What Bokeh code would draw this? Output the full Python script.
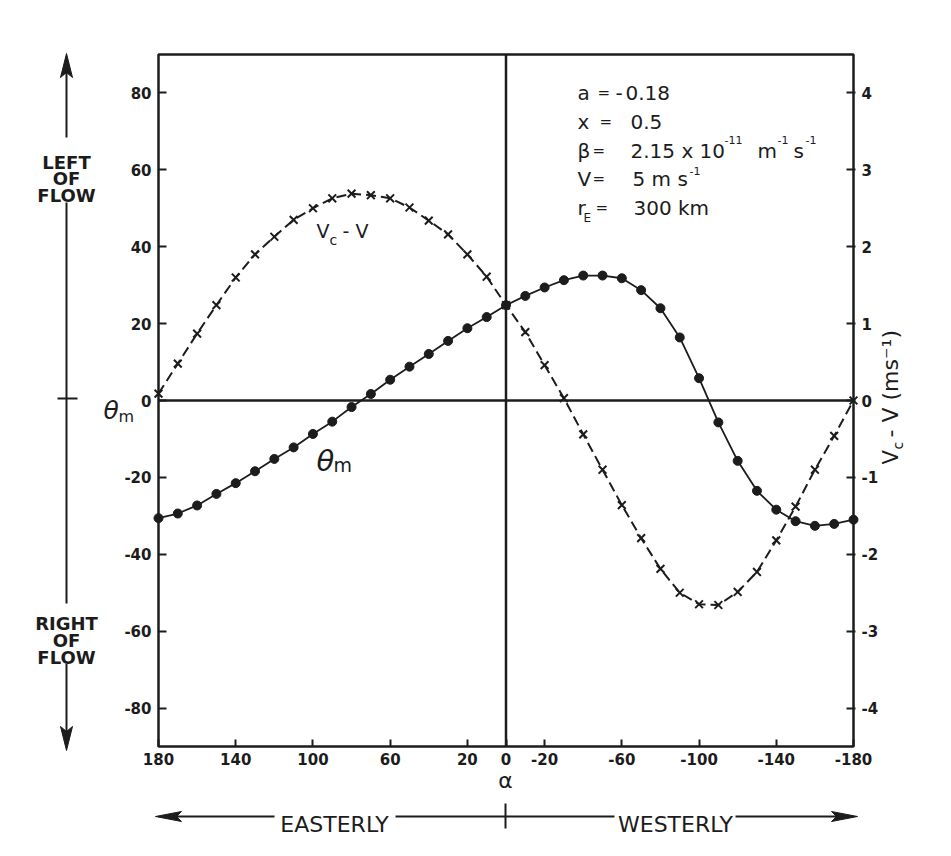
from math import pi

from bokeh.embed import file_html
from bokeh.models import FixedTicker, Label, LinearAxis, Range1d
from bokeh.plotting import figure
from bokeh.resources import INLINE

# ---- data -----------------------------------------------------------------
alpha = [180, 170, 160, 150, 140, 130, 120, 110, 100, 90, 80, 70, 60, 50, 40,
         30, 20, 10, 0, -10, -20, -30, -40, -50, -60, -70, -80, -90, -100,
         -110, -120, -130, -140, -150, -160, -170, -180]

# theta_m (deg), left axis
theta_m = [-30.6, -29.4, -27.3, -24.3, -21.5, -18.4, -15.2, -12.2, -8.7, -5.5,
           -1.7, 1.7, 5.4, 8.8, 12.1, 15.5, 18.8, 21.7, 24.8, 27.2, 29.4, 31.3,
           32.5, 32.5, 31.8, 28.7, 24.0, 16.4, 5.8, -5.7, -15.7, -23.5, -28.4,
           -31.4, -32.6, -32.1, -31.0]

# Vc - V (m/s), right axis
vc_minus_v = [0.09, 0.48, 0.87, 1.24, 1.60, 1.90, 2.13, 2.35, 2.50, 2.63, 2.69,
              2.67, 2.63, 2.51, 2.34, 2.16, 1.90, 1.61, 1.24, 0.89, 0.46, 0.03,
              -0.44, -0.90, -1.36, -1.79, -2.19, -2.50, -2.65, -2.66, -2.49,
              -2.23, -1.82, -1.38, -0.90, -0.46, 0.0]

alpha_ticks = [180, 140, 100, 60, 20, 0, -20, -60, -100, -140, -180]
theta_ticks = [-80, -60, -40, -20, 0, 20, 40, 60, 80]
vc_ticks = [-4, -3, -2, -1, 0, 1, 2, 3, 4]

# ---- geometry -------------------------------------------------------------
W, H = 951, 856
FL, FR, FT, FB = 158, 853, 54, 746          # plot box edges in canvas pixels
INK = "#1c1c1c"
FONT = "DejaVu Sans"


def ax(px):
    """canvas x pixel -> alpha value"""
    return 180 - (px - FL) * 360.0 / (FR - FL)


def ay(py):
    """canvas y pixel -> theta value"""
    return 90 - (py - FT) * 180.0 / (FB - FT)


# the frame spans the whole canvas; the plot box and its axes sit inside it,
# so the side decorations are never clipped
p = figure(width=W, height=H, output_backend="svg", toolbar_location=None,
           x_range=Range1d(ax(0), ax(W)), y_range=Range1d(ay(H), ay(0)),
           min_border=0)
p.title.visible = False
p.extra_y_ranges = {"vc": Range1d(ay(H) / 20.0, ay(0) / 20.0)}
p.add_layout(LinearAxis(y_range_name="vc"), "right")

p.xgrid.visible = False
p.ygrid.visible = False
p.outline_line_color = None
p.background_fill_color = "white"
p.border_fill_color = "white"

for axis in p.axis:
    axis.axis_line_color = None
    axis.major_tick_line_color = INK
    axis.major_tick_line_width = 2
    axis.minor_tick_line_color = None
    axis.major_label_text_font = FONT
    axis.major_label_text_font_style = "bold"
    axis.major_label_text_font_size = "15px"
    axis.major_label_text_color = INK

bottom_axis = p.below[0]
left_axis = p.left[0]
right_axis = p.right[0]

bottom_axis.fixed_location = -90
bottom_axis.ticker = FixedTicker(ticks=alpha_ticks)
bottom_axis.major_label_overrides = {t: str(t) for t in alpha_ticks}
bottom_axis.major_tick_in = 7
bottom_axis.major_tick_out = 0
bottom_axis.major_label_standoff = 6

left_axis.fixed_location = 180
left_axis.ticker = FixedTicker(ticks=theta_ticks)
left_axis.major_label_overrides = {t: str(t) for t in theta_ticks}
left_axis.major_tick_in = 8
left_axis.major_tick_out = 0
left_axis.major_label_standoff = 7

right_axis.fixed_location = -180
right_axis.ticker = FixedTicker(ticks=vc_ticks)
right_axis.major_label_overrides = {t: str(t) for t in vc_ticks}
right_axis.major_tick_in = 7
right_axis.major_tick_out = 2
right_axis.major_label_standoff = 6

# plot box and zero lines
p.quad(left=180, right=-180, bottom=-90, top=90, fill_color=None,
       line_color=INK, line_width=2.5)
p.segment(x0=[180, 0], y0=[0, -90], x1=[-180, 0], y1=[0, 90],
          line_color=INK, line_width=2.5)

# ---- curves ---------------------------------------------------------------
p.line(alpha, theta_m, line_color=INK, line_width=1.8)
p.scatter(alpha, theta_m, marker="circle", size=9, fill_color=INK, line_color=INK)

p.line(alpha, vc_minus_v, y_range_name="vc", line_color=INK, line_width=2,
       line_dash="10 5")
p.scatter(alpha, vc_minus_v, y_range_name="vc", marker="x", size=11,
          line_color=INK, line_width=2)


# ---- decoration helpers (pixel placement) ---------------------------------
def txt(text, px, py, size, align="left", baseline="alphabetic",
        style="normal", angle=0.0):
    p.add_layout(Label(x=ax(px), y=ay(py), text=text, text_font=FONT,
                       text_font_size=f"{size}px", text_font_style=style,
                       text_align=align, text_baseline=baseline,
                       text_color=INK, angle=angle))


seg_x0, seg_y0, seg_x1, seg_y1 = [], [], [], []
head_xs, head_ys = [], []


def seg(x0, y0, x1, y1):
    seg_x0.append(ax(x0)); seg_y0.append(ay(y0))
    seg_x1.append(ax(x1)); seg_y1.append(ay(y1))


def head(pts):
    head_xs.append([ax(x) for x, _ in pts])
    head_ys.append([ay(y) for _, y in pts])


# parameter block
FS = 20
rows = [92, 121, 150, 178, 207]
txt("a", 577, rows[0], FS)
txt("=", 597, rows[0], 15)
txt("-", 615, rows[0], FS)
txt("0.18", 625, rows[0], FS)
txt("x", 577, rows[1], FS)
txt("=", 599, rows[1], 15)
txt("0.5", 630, rows[1], FS)
txt("β", 577, rows[2], FS)
txt("=", 592, rows[2], 15)
txt("2.15 x 10", 630, rows[2], FS)
txt("-11", 724, rows[2] - 11, 11)
txt("m", 757, rows[2], FS)
txt("-1", 777, rows[2] - 11, 11)
txt("s", 793, rows[2], FS)
txt("-1", 805, rows[2] - 11, 11)
txt("V", 577, rows[3], FS)
txt("=", 592, rows[3], 15)
txt("5 m s", 632, rows[3], FS)
txt("-1", 689, rows[3] - 8, 11)
txt("r", 577, rows[4], FS)
txt("E", 583, rows[4] + 10, 12)
txt("=", 595, rows[4], 15)
txt("300 km", 633, rows[4], FS)

# curve labels
txt("V", 316, 230, 19)
txt("c", 329, 239, 14)
txt("- V", 342, 230, 19)
txt("θ", 316, 460, 29, style="italic")
txt("m", 333, 464, 19)

# left axis name
txt("θ", 103, 410, 25, style="italic")
txt("m", 118, 416, 16)

# right axis name (reads bottom to top)
txt("V", 890, 464, 21, angle=pi / 2)
txt("c", 897, 449, 14, angle=pi / 2)
txt("- V (ms⁻¹)", 890, 437, 22, angle=pi / 2)

# bottom axis name
txt("α", 505, 780, 22, align="center", baseline="middle")

# side arrows: left / right of flow
AXL = 66
seg(AXL, 137, AXL, 70)
head([(AXL, 53), (AXL - 6, 77), (AXL, 72), (AXL + 6, 77)])
seg(AXL, 202, AXL, 603)
seg(AXL, 663, AXL, 733)
head([(AXL, 750), (AXL - 6, 726), (AXL, 731), (AXL + 6, 726)])
seg(57, 398, 77, 398)
for t, yb in (("LEFT", 162), ("OF", 178), ("FLOW", 195)):
    txt(t, AXL, yb, 18, align="center", style="bold")
for t, yb in (("RIGHT", 623), ("OF", 640), ("FLOW", 657)):
    txt(t, AXL, yb, 18, align="center", style="bold")

# bottom arrows: easterly / westerly
YA = 816
seg(274, YA, 172, YA)
head([(155, YA), (181, YA - 5), (176, YA), (181, YA + 5)])
seg(395, YA, 614, YA)
seg(735, YA, 840, YA)
head([(857, YA), (831, YA - 5), (836, YA), (831, YA + 5)])
seg(505, 803, 505, 828)
txt("EASTERLY", 334, 824, 22, align="center")
txt("WESTERLY", 675, 824, 22, align="center")

p.segment(x0=seg_x0, y0=seg_y0, x1=seg_x1, y1=seg_y1, line_color=INK, line_width=2)
p.patches(xs=head_xs, ys=head_ys, fill_color=INK, line_color=INK, line_width=1)

open("out.html", "w").write(file_html(p, INLINE))
